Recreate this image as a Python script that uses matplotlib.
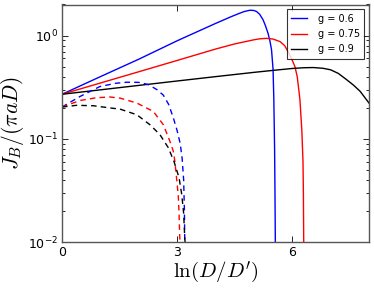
import matplotlib
matplotlib.use("Agg")
import matplotlib.pyplot as plt
from matplotlib.ticker import FixedLocator, FuncFormatter, LogLocator, NullFormatter

plt.rcParams['mathtext.fontset'] = 'cm'
plt.rcParams['font.family'] = ['DejaVu Sans']

labels = ["g = 0.6", "g = 0.75", "g = 0.9"]
colors = ["blue", "red", "black"]

# solid curves
x_solid_06 = [0, 1, 2, 3, 3.5, 4.0, 4.4, 4.6, 4.75, 4.9, 5.0, 5.07, 5.15, 5.24, 5.3, 5.37, 5.42, 5.46, 5.50, 5.52, 5.54, 5.55, 5.56]
y_solid_06 = [0.27, 0.40, 0.59, 0.89, 1.08, 1.31, 1.52, 1.63, 1.71, 1.76, 1.75, 1.71, 1.61, 1.42, 1.25, 1.05, 0.88, 0.73, 0.47, 0.24, 0.08, 0.03, 0.009]

x_solid_075 = [0, 1, 2, 3, 4, 4.5, 5.0, 5.15, 5.33, 5.5, 5.68, 5.8, 5.89, 5.98, 6.07, 6.13, 6.2, 6.25, 6.28, 6.29, 6.30]
y_solid_075 = [0.27, 0.347, 0.446, 0.574, 0.74, 0.83, 0.91, 0.93, 0.94, 0.925, 0.875, 0.80, 0.70, 0.60, 0.50, 0.40, 0.24, 0.12, 0.06, 0.03, 0.009]

x_solid_09 = [0, 1, 2, 3, 4, 5, 5.5, 6.0, 6.3, 6.55, 6.8, 7.0, 7.2, 7.42, 7.6, 7.77, 8.0]
y_solid_09 = [0.27, 0.298, 0.329, 0.363, 0.40, 0.44, 0.46, 0.48, 0.488, 0.49, 0.482, 0.466, 0.43, 0.373, 0.33, 0.288, 0.222]

# dashed curves
x_dash_06 = [0, 0.47, 0.99, 1.4, 1.68, 2.0, 2.25, 2.47, 2.64, 2.78, 2.9, 3.0, 3.08, 3.13, 3.17, 3.19, 3.20]
y_dash_06 = [0.203, 0.257, 0.321, 0.345, 0.353, 0.352, 0.335, 0.30, 0.265, 0.215, 0.16, 0.12, 0.09, 0.065, 0.04, 0.02, 0.0095]

x_dash_075 = [0, 0.47, 0.9, 1.25, 1.51, 1.95, 2.38, 2.64, 2.81, 2.90, 2.94, 2.99, 3.03, 3.05, 3.07, 3.08]
y_dash_075 = [0.203, 0.235, 0.250, 0.254, 0.248, 0.222, 0.184, 0.137, 0.095, 0.076, 0.061, 0.040, 0.028, 0.019, 0.0107, 0.009]

x_dash_09 = [0, 0.38, 0.82, 1.25, 1.51, 1.95, 2.29, 2.55, 2.77, 2.92, 3.05, 3.12, 3.17, 3.20, 3.22]
y_dash_09 = [0.203, 0.211, 0.209, 0.199, 0.194, 0.171, 0.137, 0.110, 0.082, 0.060, 0.042, 0.029, 0.019, 0.0107, 0.009]

x_ticks = [0, 3, 6]

fig = plt.figure(figsize=(3.74, 2.89), dpi=100)
ax = fig.add_axes([62/374, 47/289, 307/374, 237.5/289])

solids = [(x_solid_06, y_solid_06), (x_solid_075, y_solid_075), (x_solid_09, y_solid_09)]
dashes = [(x_dash_06, y_dash_06), (x_dash_075, y_dash_075), (x_dash_09, y_dash_09)]

for (xs, ys), c, lab in zip(solids, colors, labels):
    ax.plot(xs, ys, color=c, lw=1.0, label=lab)
for (xs, ys), c in zip(dashes, colors):
    ax.plot(xs, ys, color=c, lw=1.0, linestyle=(0, (4, 3)))

ax.set_yscale('log')
ax.set_xlim(0, 8)
ax.set_ylim(0.01, 2.0)
ax.xaxis.set_major_locator(FixedLocator(x_ticks))
ax.yaxis.set_major_locator(LogLocator(base=10))
ax.yaxis.set_minor_locator(LogLocator(base=10, subs=range(2, 10)))
ax.yaxis.set_minor_formatter(NullFormatter())

def fmt(v, pos):
    import math
    e = int(round(math.log10(v)))
    return r'$\mathregular{10^{%d}}$' % e
ax.yaxis.set_major_formatter(FuncFormatter(fmt))

ax.tick_params(which='both', direction='in', top=True, right=True, labelsize=9, pad=3)
ax.tick_params(which='major', length=4, width=0.6)
ax.tick_params(which='minor', length=2, width=0.6)
for s in ax.spines.values():
    s.set_linewidth(1.0)
    s.set_color('#555555')

ax.set_xlabel(r'$\ln(D/D^{\prime})$', fontsize=15, labelpad=0)
ax.set_ylabel(r'$J_B/(\pi a D)$', fontsize=15.5, labelpad=1)

leg = ax.legend(loc='upper right', fontsize=7, frameon=True, fancybox=False,
                handlelength=1.6, handletextpad=1.1, labelspacing=0.55,
                borderaxespad=0.5, borderpad=0.45)
leg.get_frame().set_edgecolor('black')
leg.get_frame().set_linewidth(0.8)

fig.savefig('out.png', dpi=100)
